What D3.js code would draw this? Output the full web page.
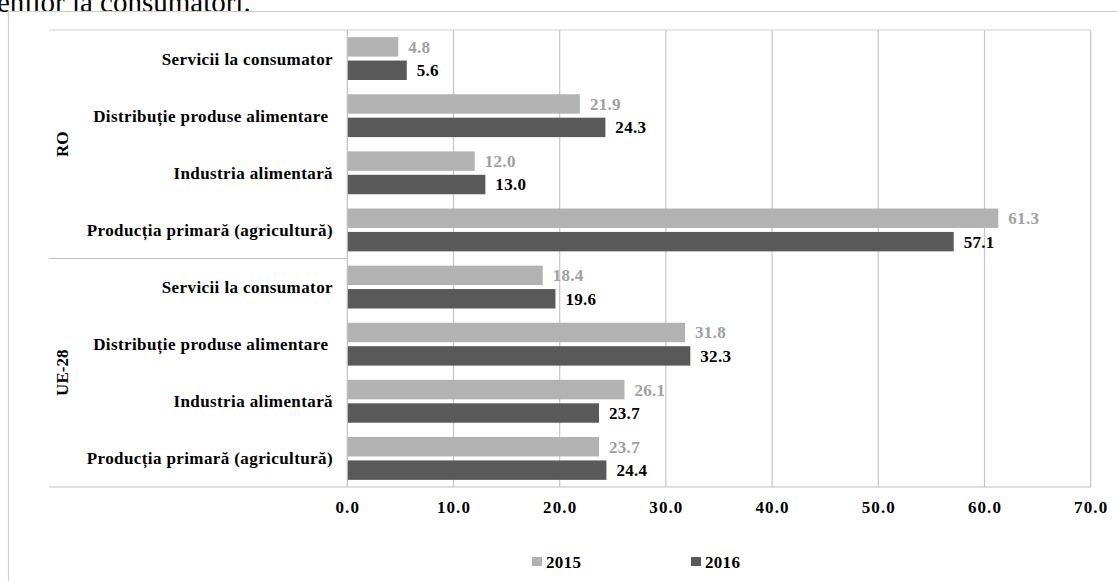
<!DOCTYPE html>
<html><head><meta charset="utf-8">
<script src="https://cdn.jsdelivr.net/npm/d3@7"></script>
<style>
html,body{margin:0;padding:0;background:#fff;}
svg{display:block;}
text{font-family:"Liberation Serif","Times New Roman",serif;}
</style></head>
<body>
<svg id="c" width="1118" height="581"></svg>
<script>
const groups = ["RO", "UE-28"];
const sectors = ["Servicii la consumator", "Distribuție produse alimentare ", "Industria alimentară", "Producția primară (agricultură)"];
const seriesNames = ["2015", "2016"];
const values2015 = [4.8, 21.9, 12.0, 61.3, 18.4, 31.8, 26.1, 23.7];
const values2016 = [5.6, 24.3, 13.0, 57.1, 19.6, 32.3, 23.7, 24.4];
const xTicks = [0, 10, 20, 30, 40, 50, 60, 70];
const colors = ["#b2b2b2", "#595959"];
const labelColors = ["#a0a0a0", "#000000"];

const rows = [];
groups.forEach((g, gi) => sectors.forEach((s, si) => {
  const i = gi * sectors.length + si;
  rows.push({key: g + "|" + s, group: g, sector: s, values: [values2015[i], values2016[i]]});
}));

const svg = d3.select("#c");
const L = 347.3, R = 1090.7, T = 30, B = 487;

// cropped caption at top (cut off in the reference too)
svg.append("text").attr("x", -3).attr("y", 12).attr("font-size", 29)
  .attr("fill", "#000").text("enilor la consumatori.");

// outer frame
svg.append("rect").attr("x", 8.5).attr("y", 11.5).attr("width", 1200).attr("height", 700)
  .attr("fill", "none").attr("stroke", "#d0d0d0").attr("stroke-width", 1.2);

const x = d3.scaleLinear().domain([0, 70]).range([L, R]);
const y = d3.scaleBand().domain(rows.map(r => r.key)).range([T, B]).paddingInner(0.25).paddingOuter(0.125);
const y1 = d3.scaleBand().domain(seriesNames).range([0, y.bandwidth()]).paddingInner(0.17);

// gridlines
svg.append("g").selectAll("line").data(xTicks.slice(1)).join("line")
  .attr("x1", d => x(d)).attr("x2", d => x(d)).attr("y1", T).attr("y2", B)
  .attr("stroke", "#c6c6c6").attr("stroke-width", 1.2);
// plot top border
svg.append("line").attr("x1", 49).attr("x2", R).attr("y1", T).attr("y2", T)
  .attr("stroke", "#cfcfcf").attr("stroke-width", 1.2);
// group separator
svg.append("line").attr("x1", 49).attr("x2", L).attr("y1", (T + B) / 2).attr("y2", (T + B) / 2)
  .attr("stroke", "#bfbfbf").attr("stroke-width", 1.2);

// bars
const rowG = svg.append("g").selectAll("g").data(rows).join("g")
  .attr("transform", d => `translate(0,${y(d.key)})`);
rowG.selectAll("rect").data(d => d.values.map((v, k) => ({v, k}))).join("rect")
  .attr("x", x(0)).attr("y", d => y1(seriesNames[d.k]))
  .attr("width", d => x(d.v) - x(0)).attr("height", y1.bandwidth())
  .attr("fill", d => colors[d.k]);
rowG.selectAll("text").data(d => d.values.map((v, k) => ({v, k}))).join("text")
  .attr("x", d => x(d.v) + 10).attr("y", d => y1(seriesNames[d.k]) + y1.bandwidth() / 2)
  .attr("dy", "0.35em").attr("font-size", 17).attr("font-weight", "bold")
  .attr("letter-spacing", "0.3px")
  .attr("fill", d => labelColors[d.k]).text(d => d.v.toFixed(1));

// axes lines
svg.append("line").attr("x1", 49).attr("x2", R).attr("y1", B).attr("y2", B)
  .attr("stroke", "#bfbfbf").attr("stroke-width", 1.2);
svg.append("line").attr("x1", L).attr("x2", L).attr("y1", T).attr("y2", B)
  .attr("stroke", "#bfbfbf").attr("stroke-width", 1.2);

// x tick labels
const xAxis = svg.append("g").attr("transform", `translate(0,${B})`)
  .call(d3.axisBottom(x).tickValues(xTicks).tickSize(0).tickPadding(14).tickFormat(d3.format(".1f")));
xAxis.select(".domain").remove();
xAxis.selectAll("text").attr("font-family", "Liberation Serif").attr("font-size", 17)
  .attr("font-weight", "bold").attr("fill", "#000").attr("letter-spacing", "1.1px");

// category labels
svg.append("g").selectAll("text").data(rows).join("text")
  .attr("x", 333).attr("y", d => y(d.key) + y.bandwidth() / 2).attr("dy", "0.35em")
  .attr("text-anchor", "end").attr("font-size", 17).attr("font-weight", "bold")
  .attr("xml:space", "preserve").style("white-space", "pre")
  .attr("letter-spacing", "0.4px").text(d => d.sector);

// group labels
groups.forEach((g, gi) => {
  const cy = T + (B - T) / 4 * (2 * gi + 1);
  svg.append("text").attr("transform", `translate(62.5,${cy}) rotate(-90)`)
    .attr("text-anchor", "middle").attr("dy", "0.35em").attr("font-size", 17)
    .attr("font-weight", "bold").text(g);
});

// legend
const legX = [532, 691];
seriesNames.forEach((s, k) => {
  svg.append("rect").attr("x", legX[k]).attr("y", 557).attr("width", 10).attr("height", 9).attr("fill", colors[k]);
  svg.append("text").attr("x", legX[k] + 14).attr("y", 562).attr("dy", "0.35em")
    .attr("font-size", 17).attr("font-weight", "bold").attr("letter-spacing", "0.3px").text(s);
});
</script>
</body></html>
